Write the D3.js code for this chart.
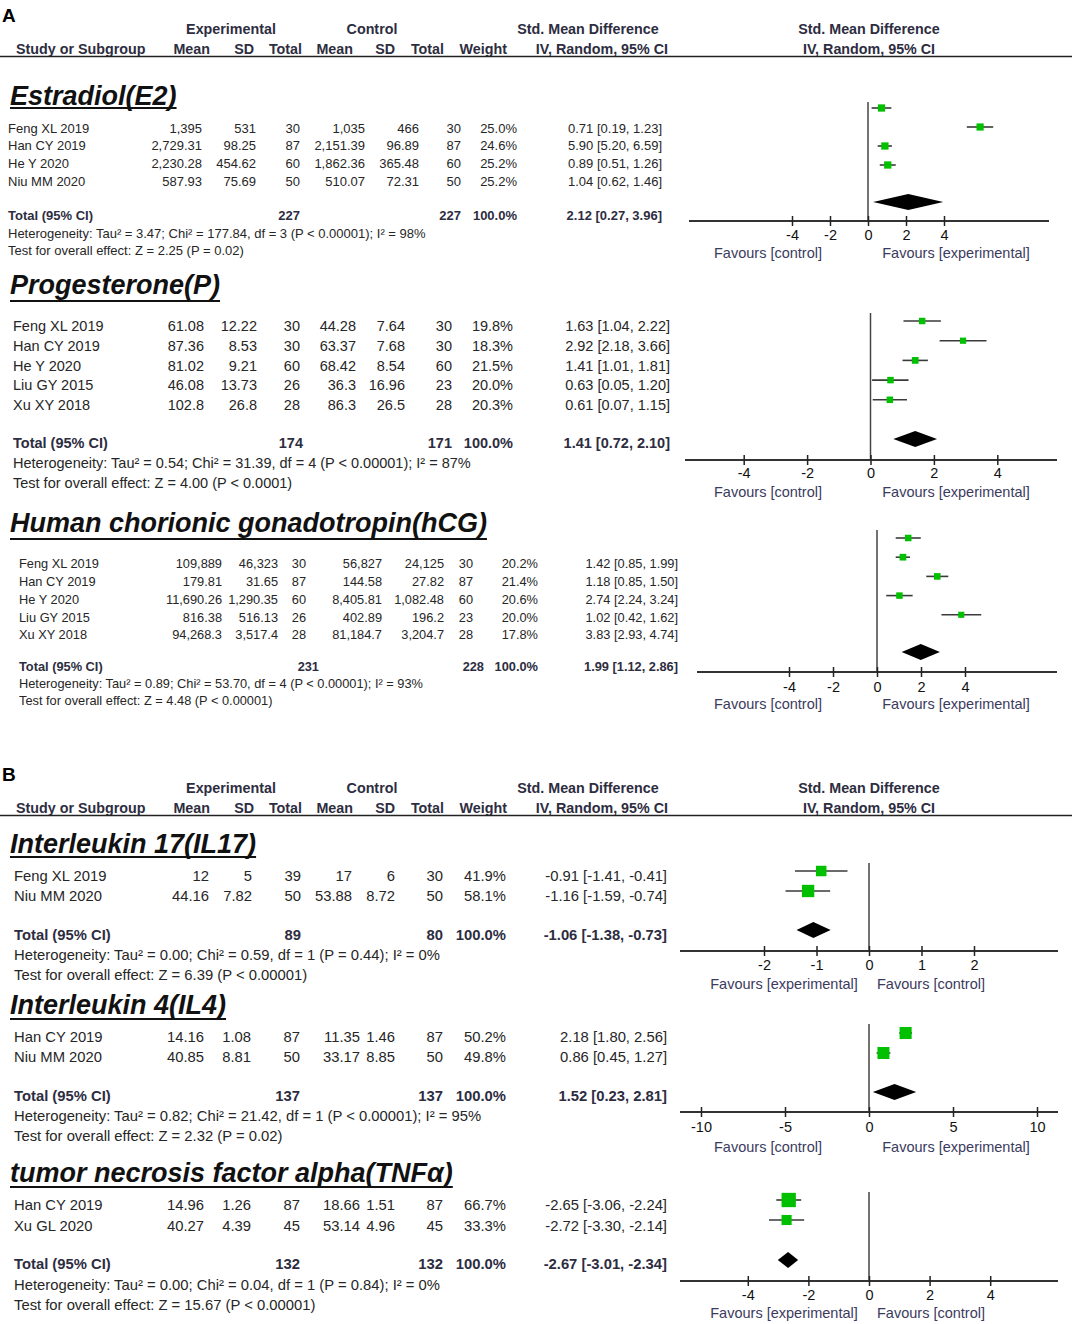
<!DOCTYPE html>
<html>
<head>
<meta charset="utf-8">
<script src="https://cdn.jsdelivr.net/npm/d3@7"></script>
<style>
  body { margin: 0; background: #fff; }
</style>
</head>
<body>
<svg id="chart"></svg>
<script>
'use strict'

// ---- data: one entry per subgroup (E2, P, hCG, IL17, IL4, TNFa) ----
const titles = ['Estradiol(E2)', 'Progesterone(P)', 'Human chorionic gonadotropin(hCG)',
  'Interleukin 17(IL17)', 'Interleukin 4(IL4)', 'tumor necrosis factor alpha(TNF\u03b1)'];

const studies = [
  ['Feng XL 2019', 'Han CY 2019', 'He Y 2020', 'Niu MM 2020'],
  ['Feng XL 2019', 'Han CY 2019', 'He Y 2020', 'Liu GY 2015', 'Xu XY 2018'],
  ['Feng XL 2019', 'Han CY 2019', 'He Y 2020', 'Liu GY 2015', 'Xu XY 2018'],
  ['Feng XL 2019', 'Niu MM 2020'],
  ['Han CY 2019', 'Niu MM 2020'],
  ['Han CY 2019', 'Xu GL 2020']
];
const expMean = [
  [1395, 2729.31, 2230.28, 587.93],
  [61.08, 87.36, 81.02, 46.08, 102.8],
  [109889, 179.81, 11690.26, 816.38, 94268.3],
  [12, 44.16],
  [14.16, 40.85],
  [14.96, 40.27]
];
const expSD = [
  [531, 98.25, 454.62, 75.69],
  [12.22, 8.53, 9.21, 13.73, 26.8],
  [46323, 31.65, 1290.35, 516.13, 3517.4],
  [5, 7.82],
  [1.08, 8.81],
  [1.26, 4.39]
];
const expN = [[30, 87, 60, 50], [30, 30, 60, 26, 28], [30, 87, 60, 26, 28], [39, 50], [87, 50], [87, 45]];
const ctlMean = [
  [1035, 2151.39, 1862.36, 510.07],
  [44.28, 63.37, 68.42, 36.3, 86.3],
  [56827, 144.58, 8405.81, 402.89, 81184.7],
  [17, 53.88],
  [11.35, 33.17],
  [18.66, 53.14]
];
const ctlSD = [
  [466, 96.89, 365.48, 72.31],
  [7.64, 7.68, 8.54, 16.96, 26.5],
  [24125, 27.82, 1082.48, 196.2, 3204.7],
  [6, 8.72],
  [1.46, 8.85],
  [1.51, 4.96]
];
const ctlN = [[30, 87, 60, 50], [30, 30, 60, 23, 28], [30, 87, 60, 23, 28], [30, 50], [87, 50], [87, 45]];
const weights = [
  [25.0, 24.6, 25.2, 25.2],
  [19.8, 18.3, 21.5, 20.0, 20.3],
  [20.2, 21.4, 20.6, 20.0, 17.8],
  [41.9, 58.1],
  [50.2, 49.8],
  [66.7, 33.3]
];
const smd = [
  [0.71, 5.90, 0.89, 1.04],
  [1.63, 2.92, 1.41, 0.63, 0.61],
  [1.42, 1.18, 2.74, 1.02, 3.83],
  [-0.91, -1.16],
  [2.18, 0.86],
  [-2.65, -2.72]
];
const ciLow = [
  [0.19, 5.20, 0.51, 0.62],
  [1.04, 2.18, 1.01, 0.05, 0.07],
  [0.85, 0.85, 2.24, 0.42, 2.93],
  [-1.41, -1.59],
  [1.80, 0.45],
  [-3.06, -3.30]
];
const ciHigh = [
  [1.23, 6.59, 1.26, 1.46],
  [2.22, 3.66, 1.81, 1.20, 1.15],
  [1.99, 1.50, 3.24, 1.62, 4.74],
  [-0.41, -0.74],
  [2.56, 1.27],
  [-2.24, -2.14]
];
const totalExpN = [227, 174, 231, 89, 137, 132];
const totalCtlN = [227, 171, 228, 80, 137, 132];
const totalSmd = [2.12, 1.41, 1.99, -1.06, 1.52, -2.67];
const totalLow = [0.27, 0.72, 1.12, -1.38, 0.23, -3.01];
const totalHigh = [3.96, 2.10, 2.86, -0.73, 2.81, -2.34];
const heterogeneity = [
  'Heterogeneity: Tau\u00b2 = 3.47; Chi\u00b2 = 177.84, df = 3 (P < 0.00001); I\u00b2 = 98%',
  'Heterogeneity: Tau\u00b2 = 0.54; Chi\u00b2 = 31.39, df = 4 (P < 0.00001); I\u00b2 = 87%',
  'Heterogeneity: Tau\u00b2 = 0.89; Chi\u00b2 = 53.70, df = 4 (P < 0.00001); I\u00b2 = 93%',
  'Heterogeneity: Tau\u00b2 = 0.00; Chi\u00b2 = 0.59, df = 1 (P = 0.44); I\u00b2 = 0%',
  'Heterogeneity: Tau\u00b2 = 0.82; Chi\u00b2 = 21.42, df = 1 (P < 0.00001); I\u00b2 = 95%',
  'Heterogeneity: Tau\u00b2 = 0.00; Chi\u00b2 = 0.04, df = 1 (P = 0.84); I\u00b2 = 0%'
];
const overallEffect = [
  'Test for overall effect: Z = 2.25 (P = 0.02)',
  'Test for overall effect: Z = 4.00 (P < 0.0001)',
  'Test for overall effect: Z = 4.48 (P < 0.00001)',
  'Test for overall effect: Z = 6.39 (P < 0.00001)',
  'Test for overall effect: Z = 2.32 (P = 0.02)',
  'Test for overall effect: Z = 15.67 (P < 0.00001)'
];
const axisTicks = [[-4, -2, 0, 2, 4], [-4, -2, 0, 2, 4], [-4, -2, 0, 2, 4],
  [-2, -1, 0, 1, 2], [-10, -5, 0, 5, 10], [-4, -2, 0, 2, 4]];
const favoursLeft = ['Favours [control]', 'Favours [control]', 'Favours [control]',
  'Favours [experimental]', 'Favours [control]', 'Favours [experimental]'];
const favoursRight = ['Favours [experimental]', 'Favours [experimental]', 'Favours [experimental]',
  'Favours [control]', 'Favours [experimental]', 'Favours [control]'];

const panelLabels = ['A', 'B'];
const headGroups = ['Experimental', 'Control', 'Std. Mean Difference'];
const headCols = ['Mean', 'SD', 'Total', 'Mean', 'SD', 'Total', 'Weight', 'IV, Random, 95% CI'];

// ---- layout (pixels) ----
const panelTop = [0, 759];
const headGroupX = [231, 372, 588];
const headColRight = [210, 254, 302, 353, 395, 444, 507, 668];
const plotHeadX = 869;

const layout = [
  { titleY: 96, ulY: 108, font: 13, nameX: 8, rowY: 128, rowStep: 17.7, totalY: 215, hetY: 233, testY: 250,
    cols: [202, 256, 300, 365, 419, 461, 517, 662], tot: [300, 461, 517, 662],
    zero: 868, ppu: 19, axisY: 221, axisX: [689, 1049], vTop: 102, mY: 108, mStep: 19, dY: 202, k: 1.45,
    tickY: 235, favY: 253, favX: [768, 956] },
  { titleY: 285, ulY: 301, font: 14.5, nameX: 13, rowY: 326, rowStep: 19.8, totalY: 443, hetY: 463, testY: 483,
    cols: [204, 257, 300, 356, 405, 452, 513, 670], tot: [303, 452, 513, 670],
    zero: 870.5, ppu: 31.7, axisY: 460, axisX: [685, 1057], vTop: 313, mY: 321, mStep: 19.7, dY: 439, k: 1.45,
    tickY: 473, favY: 492, favX: [768, 956] },
  { titleY: 523, ulY: 539, font: 12.8, nameX: 19, rowY: 564, rowStep: 17.7, totalY: 667, hetY: 684, testY: 701,
    cols: [222, 278, 306, 382, 444, 473, 538, 678], tot: [319, 484, 538, 678],
    zero: 877, ppu: 22, axisY: 672, axisX: [697, 1057], vTop: 530, mY: 538, mStep: 19.2, dY: 652, k: 1.45,
    tickY: 687, favY: 704, favX: [768, 956] },
  { titleY: 844, ulY: 857, font: 14.8, nameX: 14, rowY: 876, rowStep: 20, totalY: 935, hetY: 955, testY: 975,
    cols: [209, 252, 301, 352, 395, 443, 506, 667], tot: [301, 443, 506, 667],
    zero: 869, ppu: 52.5, axisY: 951, axisX: [680, 1058], vTop: 863, mY: 871, mStep: 20, dY: 930, k: 1.62,
    tickY: 965, favY: 984, favX: [784, 931] },
  { titleY: 1005, ulY: 1019, font: 14.8, nameX: 14, rowY: 1037, rowStep: 20, totalY: 1096, hetY: 1116, testY: 1136,
    cols: [204, 251, 300, 360, 395, 443, 506, 667], tot: [300, 443, 506, 667],
    zero: 869, ppu: 16.8, axisY: 1112, axisX: [680, 1058], vTop: 1024, mY: 1033, mStep: 20, dY: 1092, k: 1.7,
    tickY: 1127, favY: 1147, favX: [768, 956] },
  { titleY: 1173, ulY: 1187, font: 14.8, nameX: 14, rowY: 1205, rowStep: 20.5, totalY: 1264, hetY: 1285, testY: 1305,
    cols: [204, 251, 300, 360, 395, 443, 506, 667], tot: [300, 443, 506, 667],
    zero: 869, ppu: 30.3, axisY: 1281, axisX: [680, 1058], vTop: 1192, mY: 1200, mStep: 20, dY: 1260, k: 1.75,
    tickY: 1295, favY: 1313, favX: [784, 931] }
];

const textColor = '#262626';
const headColor = '#2d2d3f';
const favColor = '#3b3b5e';
const green = '#00c000';

const num = d3.format(',');
const two = v => v.toFixed(2);
const ciText = (m, l, h) => two(m) + ' [' + two(l) + ', ' + two(h) + ']';

const svg = d3.select('#chart')
  .attr('width', 1072)
  .attr('height', 1324)
  .style('font-family', "'Liberation Sans', Arial, sans-serif");

// column headers for panel A and B
panelTop.forEach((top, p) => {
  const h = svg.append('g').attr('transform', 'translate(0,' + top + ')');
  h.append('text')
    .attr('x', 2).attr('y', 15).attr('dy', '0.35em')
    .style('font-size', '19px').style('font-weight', 'bold')
    .text(panelLabels[p]);

  const hg = h.append('g')
    .style('font-size', '14.3px').style('font-weight', 'bold').style('fill', headColor);
  headGroups.forEach((t, i) => {
    hg.append('text').attr('x', headGroupX[i]).attr('y', 29).attr('dy', '0.35em')
      .attr('text-anchor', 'middle').text(t);
  });
  hg.append('text').attr('x', plotHeadX).attr('y', 29).attr('dy', '0.35em')
    .attr('text-anchor', 'middle').text(headGroups[2]);
  hg.append('text').attr('x', 16).attr('y', 49).attr('dy', '0.35em').text('Study or Subgroup');
  headCols.forEach((t, i) => {
    hg.append('text').attr('x', headColRight[i]).attr('y', 49).attr('dy', '0.35em')
      .attr('text-anchor', 'end').text(t);
  });
  hg.append('text').attr('x', plotHeadX).attr('y', 49).attr('dy', '0.35em')
    .attr('text-anchor', 'middle').text(headCols[7]);

  h.append('line')
    .attr('x1', 0).attr('x2', 1072).attr('y1', 56.5).attr('y2', 56.5)
    .style('stroke', '#222').style('stroke-width', 1.6);
});

// one block per subgroup: table on the left, forest plot on the right
layout.forEach((L, s) => {
  const g = svg.append('g');

  // subgroup title, underlined
  const title = g.append('text')
    .attr('x', 10).attr('y', L.titleY).attr('dy', '0.35em')
    .style('font-size', '27px').style('font-weight', 'bold').style('font-style', 'italic')
    .style('fill', '#111')
    .text(titles[s]);
  const tw = title.node().getComputedTextLength();
  g.append('line')
    .attr('x1', 10).attr('x2', 10 + tw).attr('y1', L.ulY).attr('y2', L.ulY)
    .style('stroke', '#111').style('stroke-width', 2);

  // study rows
  const tbl = g.append('g').style('font-size', L.font + 'px').style('fill', textColor);
  studies[s].forEach((name, i) => {
    const y = L.rowY + i * L.rowStep;
    const cells = [num(expMean[s][i]), num(expSD[s][i]), expN[s][i],
      num(ctlMean[s][i]), num(ctlSD[s][i]), ctlN[s][i],
      weights[s][i].toFixed(1) + '%', ciText(smd[s][i], ciLow[s][i], ciHigh[s][i])];
    tbl.append('text').attr('x', L.nameX).attr('y', y).attr('dy', '0.35em').text(name);
    cells.forEach((c, j) => {
      tbl.append('text').attr('x', L.cols[j]).attr('y', y).attr('dy', '0.35em')
        .attr('text-anchor', 'end').text(c);
    });
  });

  // total row
  const tot = g.append('g')
    .style('font-size', L.font + 'px').style('font-weight', 'bold').style('fill', headColor);
  tot.append('text').attr('x', L.nameX).attr('y', L.totalY).attr('dy', '0.35em').text('Total (95% CI)');
  [totalExpN[s], totalCtlN[s], '100.0%', ciText(totalSmd[s], totalLow[s], totalHigh[s])].forEach((c, j) => {
    tot.append('text').attr('x', L.tot[j]).attr('y', L.totalY).attr('dy', '0.35em')
      .attr('text-anchor', 'end').text(c);
  });

  tbl.append('text').attr('x', L.nameX).attr('y', L.hetY).attr('dy', '0.35em').text(heterogeneity[s]);
  tbl.append('text').attr('x', L.nameX).attr('y', L.testY).attr('dy', '0.35em').text(overallEffect[s]);

  // ---- forest plot ----
  const x = d3.scaleLinear().domain([0, 1]).range([L.zero, L.zero + L.ppu]);
  const plot = g.append('g');

  // line of no effect
  plot.append('line')
    .attr('x1', x(0)).attr('x2', x(0)).attr('y1', L.vTop).attr('y2', L.axisY)
    .style('stroke', '#444').style('stroke-width', 1.5);

  // axis
  plot.append('line')
    .attr('x1', L.axisX[0]).attr('x2', L.axisX[1]).attr('y1', L.axisY).attr('y2', L.axisY)
    .style('stroke', '#333').style('stroke-width', 2);
  const axis = d3.axisBottom(x)
    .tickValues(axisTicks[s])
    .tickFormat(d => String(d))
    .tickSizeOuter(0);
  const ag = plot.append('g').attr('transform', 'translate(0,' + L.axisY + ')').call(axis);
  ag.select('.domain').remove();
  ag.selectAll('.tick line').attr('y1', -5).attr('y2', 5)
    .style('stroke', '#222').style('stroke-width', 1.5);
  ag.selectAll('.tick text')
    .attr('y', L.tickY - L.axisY).attr('dy', '0.35em')
    .style('font-family', "'Liberation Sans', Arial, sans-serif")
    .style('font-size', '14.5px').style('fill', '#111');

  // confidence intervals and weighted squares
  studies[s].forEach((name, i) => {
    const y = L.mY + i * L.mStep;
    plot.append('line')
      .attr('x1', x(ciLow[s][i])).attr('x2', x(ciHigh[s][i])).attr('y1', y).attr('y2', y)
      .style('stroke', '#3a3a3a').style('stroke-width', 1.6);
    const size = L.k * Math.sqrt(weights[s][i]);
    plot.append('rect')
      .attr('x', x(smd[s][i]) - size / 2).attr('y', y - size / 2)
      .attr('width', size).attr('height', size)
      .style('fill', green);
  });

  // pooled estimate diamond
  const dy = L.dY;
  plot.append('polygon')
    .attr('points', [[x(totalLow[s]), dy], [x(totalSmd[s]), dy - 8],
      [x(totalHigh[s]), dy], [x(totalSmd[s]), dy + 8]].map(p => p.join(',')).join(' '))
    .style('fill', '#000');

  // favours labels
  const fav = plot.append('g').style('font-size', '14.5px').style('fill', favColor)
    .attr('text-anchor', 'middle');
  fav.append('text').attr('x', L.favX[0]).attr('y', L.favY).attr('dy', '0.35em').text(favoursLeft[s]);
  fav.append('text').attr('x', L.favX[1]).attr('y', L.favY).attr('dy', '0.35em').text(favoursRight[s]);
});
</script>
</body>
</html>
